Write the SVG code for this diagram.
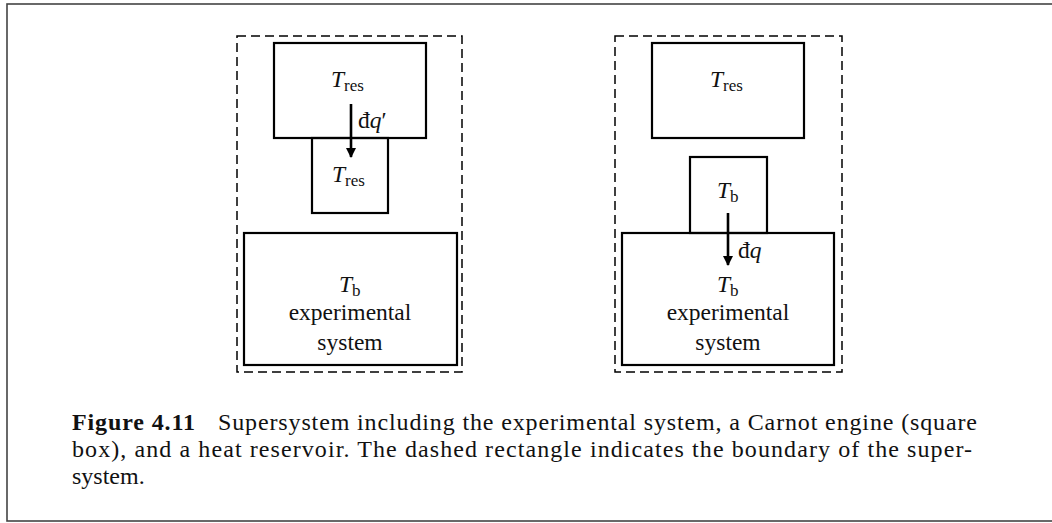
<svg xmlns="http://www.w3.org/2000/svg" width="1052" height="523" viewBox="0 0 1052 523">
<style>
.box{fill:none;stroke:#000;stroke-width:2.2}
.dash{fill:none;stroke:#000;stroke-width:1.5;stroke-dasharray:9 5}
.t{font-family:"Liberation Serif","Times New Roman",serif;font-size:23.5px;fill:#111}
.it{font-style:italic}
.sub{font-size:17px}
.cap{font-family:"Liberation Serif","Times New Roman",serif;font-size:24px;fill:#111}
.arr{stroke:#000;stroke-width:2.6;fill:none}
</style>
<defs>
<marker id="ah" viewBox="0 0 10 10" refX="9" refY="5" markerWidth="4" markerHeight="5" markerUnits="strokeWidth" orient="auto">
<path d="M0,0 L10,5 L0,10 Z" fill="#000"/>
</marker>
</defs>
<rect x="7" y="4" width="1050" height="517" fill="none" stroke="#444" stroke-width="1.6"/>

<g id="left">
<rect class="dash" x="237" y="36" width="225" height="336"/>
<g id="left-reservoir">
<rect class="box" x="274" y="43" width="152" height="95"/>
<text class="t" x="331" y="87"><tspan class="it">T</tspan><tspan class="sub" dy="4">res</tspan></text>
</g>
<g id="left-engine">
<rect class="box" x="312" y="138" width="76" height="75"/>
<text class="t" x="332" y="182"><tspan class="it">T</tspan><tspan class="sub" dy="4">res</tspan></text>
</g>
<g id="left-system">
<rect class="box" x="244" y="233" width="213" height="132"/>
<text class="t" x="339" y="292"><tspan class="it">T</tspan><tspan class="sub" dy="4">b</tspan></text>
<text class="t" x="350" y="320" text-anchor="middle">experimental</text>
<text class="t" x="350" y="350" text-anchor="middle">system</text>
</g>
</g>

<g id="right">
<rect class="dash" x="615" y="36" width="227" height="336"/>
<g id="right-reservoir">
<rect class="box" x="652" y="43" width="152" height="95"/>
<text class="t" x="710" y="87"><tspan class="it">T</tspan><tspan class="sub" dy="4">res</tspan></text>
</g>
<g id="right-engine">
<rect class="box" x="690" y="157" width="77" height="76"/>
<text class="t" x="717" y="198"><tspan class="it">T</tspan><tspan class="sub" dy="4">b</tspan></text>
</g>
<g id="right-system">
<rect class="box" x="622" y="233" width="212" height="132"/>
<text class="t" x="717" y="292"><tspan class="it">T</tspan><tspan class="sub" dy="4">b</tspan></text>
<text class="t" x="728" y="320" text-anchor="middle">experimental</text>
<text class="t" x="728" y="350" text-anchor="middle">system</text>
</g>
</g>

<g id="connectors">
<line class="arr" x1="351" y1="104" x2="351" y2="157" marker-end="url(#ah)"/>
<text class="t" x="358" y="128">đ<tspan class="it">q</tspan>′</text>
<line class="arr" x1="728" y1="213" x2="728" y2="265" marker-end="url(#ah)"/>
<text class="t" x="738" y="258">đ<tspan class="it">q</tspan></text>
</g>

<g id="caption">
<text class="cap" x="72" y="430" font-weight="bold" textLength="123" lengthAdjust="spacing">Figure 4.11</text>
<text class="cap" x="218" y="430" textLength="759" lengthAdjust="spacing">Supersystem including the experimental system, a Carnot engine (square</text>
<text class="cap" x="72" y="457" textLength="900" lengthAdjust="spacing">box), and a heat reservoir. The dashed rectangle indicates the boundary of the super-</text>
<text class="cap" x="72" y="484">system.</text>
</g>
</svg>
